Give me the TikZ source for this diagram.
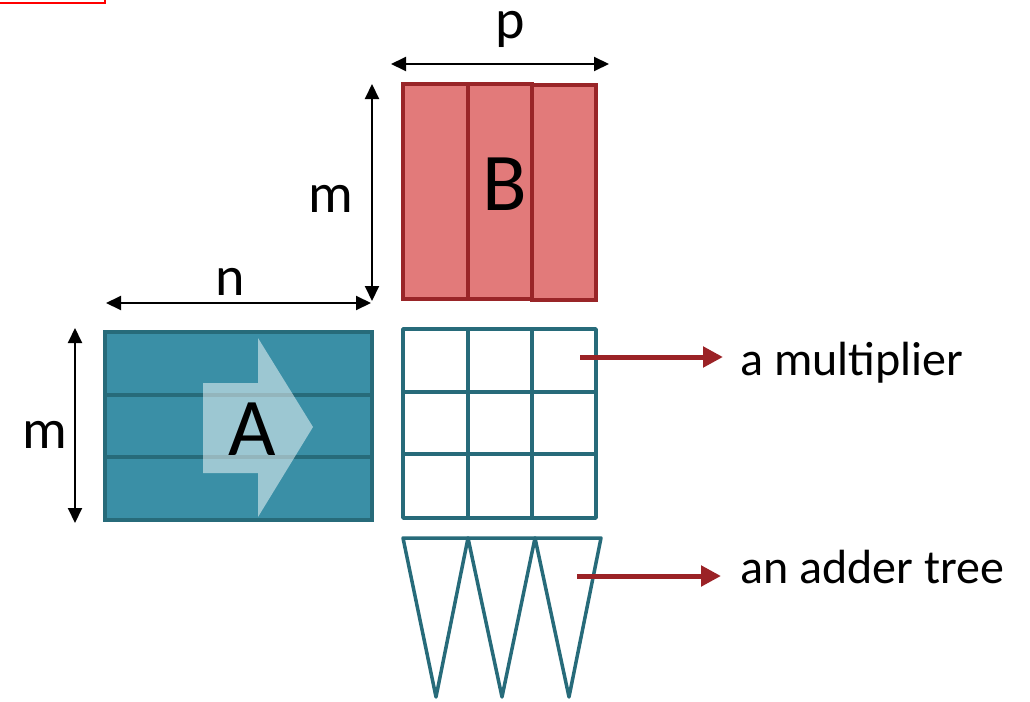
\documentclass[tikz,border=0pt]{standalone}
\usepackage{fontspec}
\setmainfont{Carlito}
\usetikzlibrary{arrows.meta}
\definecolor{tealfill}{HTML}{3A8FA6}
\definecolor{tealline}{HTML}{276B7A}
\definecolor{redfill}{HTML}{E27A7A}
\definecolor{redline}{HTML}{992528}
\definecolor{arrred}{HTML}{9B2226}
\tikzset{
  abox/.style={fill=tealfill,draw=tealline,line width=3.5pt},
  bbox/.style={fill=redfill,draw=redline,line width=3.5pt},
  gridline/.style={draw=tealline,line width=3.5pt},
  dimarrow/.style={line width=2pt,{Triangle[length=15pt,width=14pt]}-{Triangle[length=15pt,width=14pt]}},
  redarrow/.style={draw=arrred,line width=5pt,-{Triangle[length=20pt,width=20pt]}},
  dimlabel/.style={font=\fontsize{56}{60}\selectfont,anchor=base,inner sep=0pt},
  biglabel/.style={font=\fontsize{82}{86}\selectfont,anchor=base,inner sep=0pt},
  sidelabel/.style={font=\fontsize{48}{50}\selectfont,anchor=base west,inner sep=0pt}
}
\begin{document}
\begin{tikzpicture}[x=1pt,y=-1pt]
\useasboundingbox (0,0) rectangle (1030,701);
% stray red frame at top-left
\draw[red,line width=1.5pt] (-20,-20) rectangle (105,3);
% matrix A
\draw[abox] (105,332) rectangle (372,520);
\draw[gridline] (105,395) -- (372,395);
\draw[gridline] (105,457) -- (372,457);
\fill[white,opacity=0.5] (203,383) -- (258,383) -- (258,338) -- (313,427) -- (258,517) -- (258,473) -- (203,473) -- cycle;
\node[biglabel] (A) at (252,455) {A};
% matrix B
\draw[bbox] (403,84) rectangle (468,299);
\draw[bbox] (468,84) rectangle (532,299);
\draw[bbox] (532,85) rectangle (596,300);
\node[biglabel] (B) at (505,210) {B};
% multiplier grid
\draw[gridline,line join=round] (403,329) rectangle (596,518);
\draw[gridline] (403,392) -- (596,392);
\draw[gridline] (403,454) -- (596,454);
\draw[gridline] (468,329) -- (468,518);
\draw[gridline] (532,329) -- (532,518);
% adder trees
\draw[gridline,line join=round] (403,538) -- (468,538) -- (436,697) -- cycle;
\draw[gridline,line join=round] (468,538) -- (535,538) -- (502,697) -- cycle;
\draw[gridline,line join=round] (535,538) -- (601,538) -- (569,697) -- cycle;
% dimension arrows
\coordinate (pL) at (391,64); \coordinate (pR) at (609,64);
\draw[dimarrow] (pL) -- (pR);
\node[dimlabel] (p) at (510,39) {p};
\coordinate (mT) at (372,84); \coordinate (mB) at (372,301);
\draw[dimarrow] (mT) -- (mB);
\node[dimlabel] (m1) at (331,212) {m};
\coordinate (nL) at (106,303); \coordinate (nR) at (371,303);
\draw[dimarrow] (nL) -- (nR);
\node[dimlabel] (n) at (230,295) {n};
\coordinate (m2T) at (75,328); \coordinate (m2B) at (75,523);
\draw[dimarrow] (m2T) -- (m2B);
\node[dimlabel] (m2) at (45,448) {m};
% side labels
\node[sidelabel] (mul) at (740,375) {a multiplier};
\node[sidelabel] (add) at (740,583) {an adder tree};
\coordinate (mulS) at (580,357);
\coordinate (addS) at (577,576);
\draw[redarrow] (mulS) -- ([xshift=-17pt]mul.west |- mulS);
\draw[redarrow] (addS) -- ([xshift=-19pt]add.west |- addS);
\end{tikzpicture}
\end{document}
